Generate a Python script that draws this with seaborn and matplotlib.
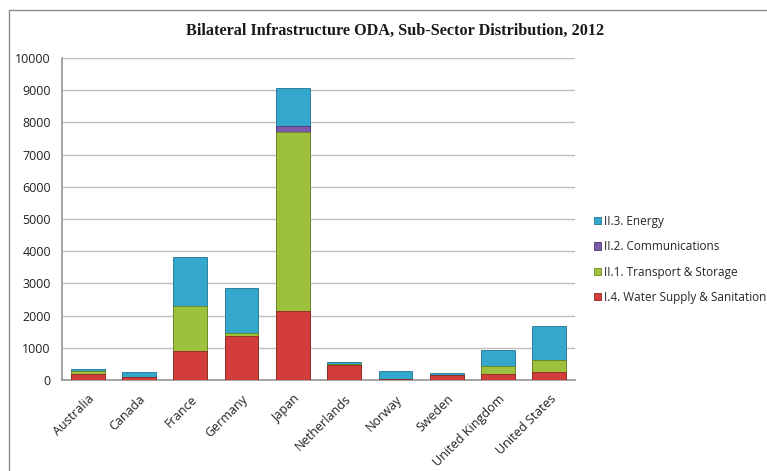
import matplotlib
matplotlib.use("Agg")
import matplotlib.pyplot as plt
import seaborn as sns
import pandas as pd
import numpy as np
from matplotlib.lines import Line2D
from matplotlib.patches import Patch

countries = ["Australia", "Canada", "France", "Germany", "Japan",
             "Netherlands", "Norway", "Sweden", "United Kingdom", "United States"]

# USD millions by sub-sector
water_sanitation = [180, 90, 910, 1370, 2140, 480, 20, 150, 190, 260]
transport_storage = [110, 10, 1390, 80, 5560, 10, 5, 0, 230, 370]
communications = [0, 0, 0, 0, 190, 0, 0, 0, 0, 0]
energy = [60, 140, 1530, 1400, 1180, 75, 250, 80, 520, 1040]

series_names = ["I.4. Water Supply & Sanitation", "II.1. Transport & Storage",
                "II.2. Communications", "II.3. Energy"]
series_values = [water_sanitation, transport_storage, communications, energy]
series_colors = ["#d23c3a", "#9dc13c", "#7d5ba8", "#33a8cc"]
edge_colors = ["#8e2624", "#6a8a22", "#4d3373", "#1f7391"]

sns.set_theme(style="white")
plt.rcParams["font.family"] = ["Open Sans", "DejaVu Sans"]

fig = plt.figure(figsize=(7.67, 4.71), dpi=100)
ax = fig.add_axes([62 / 767, 1 - 380 / 471, (575 - 62) / 767, (380 - 58) / 471])

df = pd.DataFrame({"country": countries})
cum = np.zeros(len(countries))
cum_layers = []
for vals in series_values:
    cum = cum + np.array(vals, dtype=float)
    cum_layers.append(cum.copy())

# draw stacked layers from the tallest cumulative down so each sits on top of the next
for i in reversed(range(len(series_names))):
    df["value"] = cum_layers[i]
    sns.barplot(data=df, x="country", y="value", ax=ax, color=series_colors[i],
                width=0.66, saturation=1, edgecolor=edge_colors[i], linewidth=0.6,
                zorder=3)

ax.set_ylim(0, 10000)
ax.set_yticks(np.arange(0, 10001, 1000))
ax.set_xlim(-0.5, len(countries) - 0.5)
ax.yaxis.grid(True, color="#bdbdbd", linewidth=1.0, zorder=0)
ax.set_axisbelow(True)
for s in ["top", "right"]:
    ax.spines[s].set_visible(False)
ax.spines["left"].set_color("#9a9a9a")
ax.spines["bottom"].set_color("#9a9a9a")
ax.set_xlabel("")
ax.set_ylabel("")
ax.tick_params(axis="y", length=0, labelsize=9, colors="#222222", pad=8)
ax.tick_params(axis="x", length=0, labelsize=9, colors="#222222", pad=9)
plt.setp(ax.get_xticklabels(), rotation=45, ha="right", rotation_mode="anchor")

fig.text(395 / 767, 1 - 31 / 471,
         "Bilateral Infrastructure ODA, Sub-Sector Distribution, 2012",
         ha="center", va="center", fontsize=11.7, fontweight="bold",
         family=["Liberation Serif"], color="#1a1a1a")

handles = [Patch(facecolor=series_colors[i], edgecolor=edge_colors[i], linewidth=0.6)
           for i in reversed(range(len(series_names)))]
labels = list(reversed(series_names))
fig.legend(handles, labels, loc="upper left",
           bbox_to_anchor=(589 / 767, 1 - 210 / 471), frameon=False,
           fontsize=8.5, handlelength=0.6, handleheight=0.6, handletextpad=0.3,
           labelspacing=1.05, borderaxespad=0)

# outer chart frame: left and top edges
frame_x = [8.5 / 767, 8.5 / 767, 1.0]
frame_y = [0.0, 1 - 9.5 / 471, 1 - 9.5 / 471]
fig.lines.append(Line2D(frame_x, frame_y, transform=fig.transFigure,
                        color="#8c8c8c", linewidth=1.0))

fig.savefig("out.png", dpi=100)
